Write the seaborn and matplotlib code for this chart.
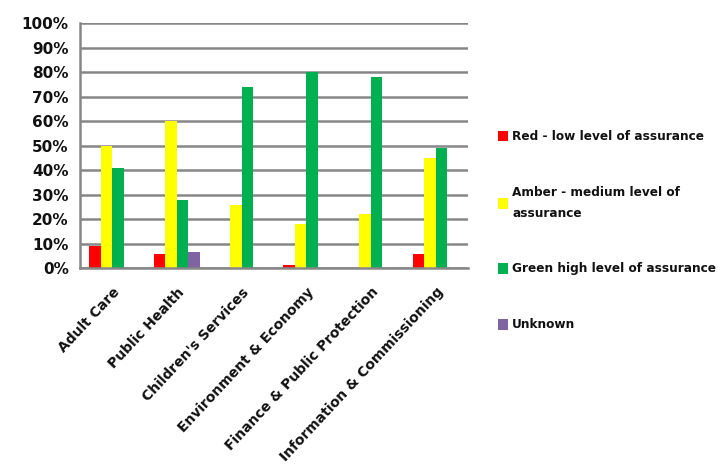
import matplotlib
matplotlib.use("Agg")
import matplotlib.pyplot as plt
import seaborn as sns
import pandas as pd
import numpy as np
from matplotlib.ticker import FixedLocator, PercentFormatter

categories = ["Adult Care", "Public Health", "Children's Services",
              "Environment & Economy", "Finance & Public Protection",
              "Information & Commissioning"]
series = ["Red - low level of assurance",
          "Amber - medium level of\nassurance",
          "Green high level of assurance",
          "Unknown"]
red = [9, 6, 0, 1.5, 0, 6]
amber = [50, 60, 26, 18, 22, 45]
green = [41, 28, 74, 80, 78, 49]
unknown = [0, 6.5, 0, 0, 0, 0]
colors = ["#FF0000", "#FFFF00", "#00B050", "#8064A2"]

rows = []
for s, vals in zip(series, [red, amber, green, unknown]):
    for c, v in zip(categories, vals):
        rows.append({"Category": c, "Series": s, "Value": v})
df = pd.DataFrame(rows)

sns.set_style("white")
plt.rcParams["font.family"] = ["DejaVu Sans"]
plt.rcParams["font.weight"] = "bold"
plt.rcParams["text.color"] = "#111111"

fig = plt.figure(figsize=(7.2, 4.66), dpi=100)
ax = fig.add_axes([0.111, 0.424, 0.539, 0.526])

sns.barplot(data=df, x="Category", y="Value", hue="Series", palette=colors,
            hue_order=series, order=categories, width=0.71, gap=0,
            saturation=1, ax=ax, legend=True, edgecolor="none", linewidth=0)

grid_c = "#878787"
ax.set_ylim(0, 100)
ax.set_xlim(-0.5, 5.5)
ax.set_yticks(np.arange(0, 101, 10))
ax.yaxis.set_major_formatter(PercentFormatter(decimals=0))
ax.grid(axis="y", color=grid_c, linewidth=1.8)
ax.set_axisbelow(True)
for sp in ["top", "right"]:
    ax.spines[sp].set_visible(False)
for sp in ["left", "bottom"]:
    ax.spines[sp].set_color(grid_c)
    ax.spines[sp].set_linewidth(1.8)
ax.set_xlabel("")
ax.set_ylabel("")

ax.tick_params(axis="y", length=5, width=1.8, color=grid_c,
               labelsize=11, pad=3, labelcolor="#111111")
ax.set_xticks(range(len(categories)))
ax.set_xticklabels(categories, rotation=47, ha="right", rotation_mode="anchor",
                   fontweight="bold", fontsize=10, color="#111111")
ax.tick_params(axis="x", which="major", length=0, pad=12)
ax.xaxis.set_minor_locator(FixedLocator(np.arange(-0.5, 6, 1)))
ax.tick_params(axis="x", which="minor", length=6, width=1.8, color=grid_c)
for lbl in ax.get_yticklabels():
    lbl.set_fontweight("bold")

handles, labels = ax.get_legend_handles_labels()
ax.get_legend().remove()
leg = fig.legend(handles, labels, loc="upper left",
                 bbox_to_anchor=(0.677, 0.744), frameon=False,
                 handlelength=0.8, handleheight=1.0, handletextpad=0.35,
                 labelspacing=3.55, prop={"weight": "bold", "size": 8.7})
for t in leg.get_texts():
    t.set_linespacing(1.75)

fig.savefig("out.png", dpi=100)
